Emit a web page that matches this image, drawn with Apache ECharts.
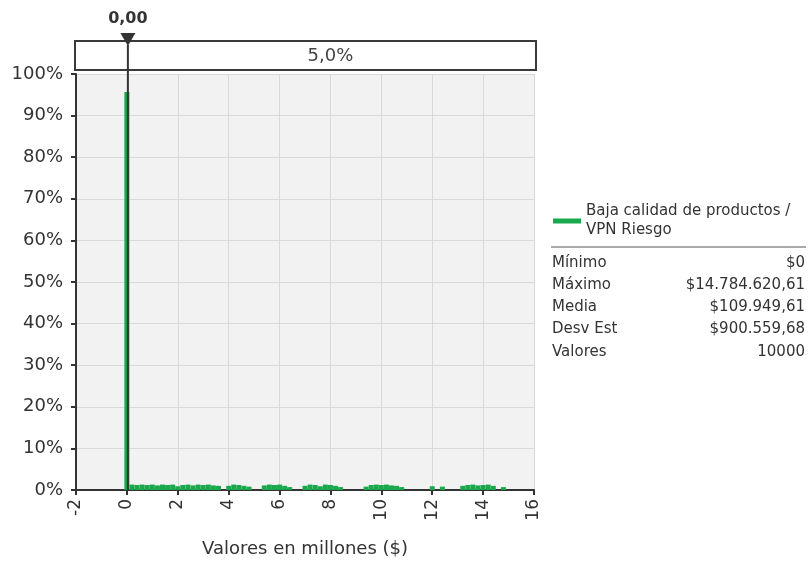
<!DOCTYPE html>
<html><head><meta charset="utf-8">
<script src="https://cdn.jsdelivr.net/npm/echarts@6/dist/echarts.min.js"></script>
<style>html,body{margin:0;padding:0;background:#fff}#c{width:808px;height:561px}</style>
</head><body><div id="c"></div>
<script>
// ---- data ----
const seriesName = 'Baja calidad de productos /\nVPN Riesgo';
const binX = [0,
  0.2,0.4,0.6,0.8,1.0,1.2,1.4,1.6,1.8,2.0,2.2,2.4,2.6,2.8,3.0,3.2,3.4,3.6,
  4.0,4.2,4.4,4.6,4.8,
  5.4,5.6,5.8,6.0,6.2,6.4,
  7.0,7.2,7.4,7.6,7.8,8.0,8.2,8.4,
  9.4,9.6,9.8,10.0,10.2,10.4,10.6,10.8,
  12.0,12.4,
  13.2,13.4,13.6,13.8,14.0,14.2,14.4,14.8];
const binPct = [95.7,
  1.3,1.2,1.3,1.2,1.3,1.1,1.3,1.2,1.3,0.9,1.2,1.3,1.1,1.3,1.2,1.3,1.1,1.0,
  1.0,1.3,1.2,1.0,0.8,
  1.1,1.3,1.2,1.3,1.0,0.7,
  1.0,1.3,1.2,0.9,1.3,1.2,1.0,0.7,
  0.8,1.2,1.3,1.2,1.3,1.1,1.0,0.7,
  0.9,0.8,
  1.0,1.2,1.3,1.1,1.2,1.3,1.0,0.7];
const xMin = -2, xMax = 16, xStep = 2;
const yMin = 0, yMax = 100, yStep = 10;
const markerValue = 0;
const markerLabel = '0,00';
const bandLabel = '5,0%';
const xAxisTitle = 'Valores en millones ($)';
const statLabels = ['Mínimo', 'Máximo', 'Media', 'Desv Est', 'Valores'];
const statValues = ['$0', '$14.784.620,61', '$109.949,61', '$900.559,68', '10000'];

// ---- chart ----
const FONT = 'DejaVu Sans';
const chart = echarts.init(document.getElementById('c'), null, {renderer: 'canvas'});
const option = {
  animation: false,
  textStyle: {fontFamily: FONT},
  grid: {left: 76, right: 274, top: 74, bottom: 71, show: true, backgroundColor: '#f2f2f2',
         borderWidth: 0, outerBoundsMode: 'none', containLabel: false},
  legend: {
    left: 548, top: 197, orient: 'vertical',
    itemWidth: 28, itemHeight: 5, icon: 'rect',
    textStyle: {fontFamily: FONT, fontSize: 15, color: '#333', lineHeight: 19},
    data: [seriesName]
  },
  xAxis: {
    type: 'value', min: xMin, max: xMax, interval: xStep,
    axisLine: {show: true, onZero: false, lineStyle: {color: '#333', width: 2}},
    axisTick: {show: true, length: 5, lineStyle: {color: '#333', width: 2}},
    axisLabel: {rotate: 90, fontSize: 17, color: '#333', margin: 9, fontFamily: FONT},
    splitLine: {show: true, lineStyle: {color: '#d9d9d9', width: 1}},
    name: xAxisTitle, nameLocation: 'middle', nameGap: 50,
    nameTextStyle: {fontSize: 18, color: '#333', fontFamily: FONT}
  },
  yAxis: {
    type: 'value', min: yMin, max: yMax, interval: yStep,
    axisLine: {show: true, onZero: false, lineStyle: {color: '#333', width: 2}},
    axisTick: {show: true, length: 5, lineStyle: {color: '#333', width: 2}},
    axisLabel: {formatter: '{value}%', fontSize: 18, color: '#333', margin: 13, fontFamily: FONT},
    splitLine: {show: true, lineStyle: {color: '#d9d9d9', width: 1}}
  },
  series: [{
    name: seriesName, type: 'bar', barWidth: 5, barGap: '0%',
    itemStyle: {color: '#1aa84c'},
    data: binX.map((x, i) => [x, binPct[i]])
  }]
};
chart.setOption(option);

// annotations positioned through the chart's own scales
const pTopL = chart.convertToPixel({gridIndex: 0}, [xMin, yMax]);
const pTopR = chart.convertToPixel({gridIndex: 0}, [xMax, yMax]);
const pMark = chart.convertToPixel({gridIndex: 0}, [markerValue, yMax]);
const pBase = chart.convertToPixel({gridIndex: 0}, [markerValue, yMin]);
const boxTop = pTopL[1] - 33, boxH = 29;
const statTop = 263, statStep = 22.2, statLeft = 552, statRight = 805;
const graphics = [
  {type: 'rect', z: 100, shape: {x: pTopL[0] - 1, y: boxTop, width: pTopR[0] - pTopL[0] + 3, height: boxH},
   style: {fill: '#fff', stroke: '#3a3a3a', lineWidth: 2}},
  {type: 'text', z: 101, style: {text: bandLabel, x: (pMark[0] + pTopR[0]) / 2, y: boxTop + boxH / 2 + 1,
   align: 'center', verticalAlign: 'middle', font: '18px "DejaVu Sans"', fill: '#444'}},
  {type: 'line', z: 102, shape: {x1: pMark[0] + 1, y1: boxTop + 4, x2: pMark[0] + 1, y2: pBase[1]},
   style: {stroke: '#333', lineWidth: 2}},
  {type: 'polygon', z: 103, shape: {points: [[pMark[0] - 6.5, boxTop - 8], [pMark[0] + 8.5, boxTop - 8], [pMark[0] + 1, boxTop + 5]]},
   style: {fill: '#333'}},
  {type: 'text', z: 103, style: {text: markerLabel, x: pMark[0] + 1, y: 19, align: 'center', verticalAlign: 'middle',
   font: 'bold 16px "DejaVu Sans"', fill: '#333'}},
  {type: 'line', z: 100, shape: {x1: 551, y1: 247, x2: 806, y2: 247}, style: {stroke: '#aaa', lineWidth: 2}}
];
statLabels.forEach((lab, i) => {
  graphics.push({type: 'text', z: 100, style: {text: lab, x: statLeft, y: statTop + i * statStep, align: 'left',
    verticalAlign: 'middle', font: '15px "DejaVu Sans"', fill: '#333'}});
  graphics.push({type: 'text', z: 100, style: {text: statValues[i], x: statRight, y: statTop + i * statStep, align: 'right',
    verticalAlign: 'middle', font: '15px "DejaVu Sans"', fill: '#333'}});
});
chart.setOption({graphic: graphics});
</script>
</body></html>
